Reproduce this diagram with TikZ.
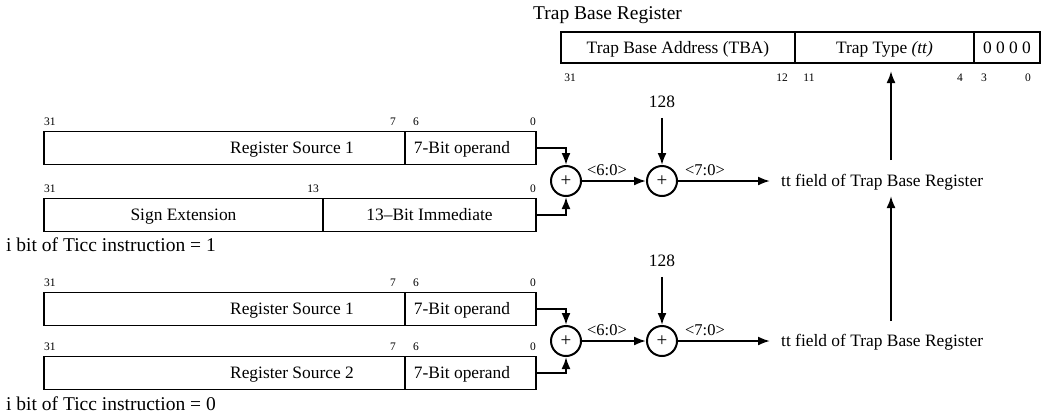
\documentclass[tikz,border=0pt]{standalone}
\usepackage{fontspec}
\setmainfont{Liberation Serif}
\usetikzlibrary{arrows.meta}
\begin{document}
\begin{tikzpicture}[x=1pt,y=-1pt,
  cell/.style={draw, line width=1.8pt, minimum height=33pt, inner sep=0pt,
    font=\fontsize{17.4}{20}\selectfont, text height=11.5pt, text depth=0pt},
  txt/.style={font=\fontsize{17.4}{20}\selectfont, inner sep=0pt, text height=11.5pt, text depth=0pt},
  small/.style={font=\fontsize{16.5}{19}\selectfont, inner sep=0pt, text height=11pt, text depth=0pt},
  big/.style={font=\fontsize{19.5}{22}\selectfont, inner sep=0pt, text height=13pt, text depth=0pt},
  bitno/.style={font=\fontsize{11.5}{13}\selectfont, inner sep=0pt, text height=7.5pt, text depth=0pt},
  adder/.style={draw, circle, line width=2pt, minimum size=30pt, inner sep=0pt,
    font=\fontsize{19}{21}\selectfont},
  arr/.style={line width=2pt, -{Latex[length=12pt,width=9pt]}}
]
\useasboundingbox (0,0) rectangle (1047,416);

% ---------- Trap Base Register ----------
\node[big, anchor=west] (tbrtitle) at (533,13) {Trap Base Register};
\node[cell, minimum height=31pt, minimum width=234pt] (tba) at (678,47.5) {Trap Base Address (TBA)};
\node[cell, minimum height=31pt, minimum width=179pt] (ttc) at (884.5,47.5) {Trap Type \textit{(tt)}};
\node[cell, minimum height=31pt, minimum width=66pt] (zc) at (1007,47.5) {0 0 0 0};
\node[bitno] (t31) at (570,78) {31};
\node[bitno] (t12) at (782,78) {12};
\node[bitno] (t11) at (809,78) {11};
\node[bitno] (t4) at (960,78) {4};
\node[bitno] (t3) at (984,78) {3};
\node[bitno] (t0) at (1028,78) {0};

% ---------- i = 1 : rs1 + simm13 ----------
\node[cell, minimum width=361pt] (aL) at (224.5,148) {};
\node[cell, minimum width=131pt] (aR) at (470.5,148) {};
\node[txt] (aLt) at (292,148) {Register Source 1};
\node[txt] (aRt) at (462,148) {7-Bit operand};
\node[bitno, anchor=west] (a31) at (44,122) {31};
\node[bitno] (a7) at (393,122) {7};
\node[bitno] (a6) at (416,122) {6};
\node[bitno] (a0) at (533,122) {0};

\node[cell, minimum width=279pt] (bL) at (183.5,215) {Sign Extension};
\node[cell, minimum width=213pt] (bR) at (429.5,215) {13–Bit Immediate};
\node[bitno, anchor=west] (b31) at (44,189) {31};
\node[bitno] (b13) at (313,189) {13};
\node[bitno] (b0) at (533,189) {0};

\node[big, anchor=west] (ibit1) at (6,245) {i bit of Ticc instruction = 1};

\node[adder] (add1) at (566,181) {+};
\node[adder] (add2) at (662,181) {+};
\node[txt] (c128a) at (662,102) {128};
\node[txt, anchor=west] (tt1) at (781,181) {tt field of Trap Base Register};

\draw[arr] (aR.east) -| (add1.north);
\draw[arr] (bR.east) -| (add1.south);
\draw[arr] (add1.east) -- (add2.west);
\node[small] (l60a) at (607,170) {<6:0>};
\draw[arr] ([yshift=-10pt]c128a.south) -- (add2.north);
\draw[arr] (add2.east) -- ([xshift=-11pt]tt1.west);
\node[small] (l70a) at (705,170) {<7:0>};

% ---------- i = 0 : rs1 + rs2 ----------
\node[cell, minimum width=361pt] (cL) at (224.5,309) {};
\node[cell, minimum width=131pt] (cR) at (470.5,309) {};
\node[txt] (cLt) at (292,309) {Register Source 1};
\node[txt] (cRt) at (462,309) {7-Bit operand};
\node[bitno, anchor=west] (c31) at (44,283) {31};
\node[bitno] (c7) at (393,283) {7};
\node[bitno] (c6) at (416,283) {6};
\node[bitno] (c0) at (533,283) {0};

\node[cell, minimum width=361pt] (dL) at (224.5,373) {};
\node[cell, minimum width=131pt] (dR) at (470.5,373) {};
\node[txt] (dLt) at (292,373) {Register Source 2};
\node[txt] (dRt) at (462,373) {7-Bit operand};
\node[bitno, anchor=west] (d31) at (44,347) {31};
\node[bitno] (d7) at (393,347) {7};
\node[bitno] (d6) at (416,347) {6};
\node[bitno] (d0) at (533,347) {0};

\node[big, anchor=west] (ibit0) at (6,404) {i bit of Ticc instruction = 0};

\node[adder] (add3) at (566,341) {+};
\node[adder] (add4) at (662,341) {+};
\node[txt] (c128b) at (662,261) {128};
\node[txt, anchor=west] (tt2) at (781,341) {tt field of Trap Base Register};

\draw[arr] (cR.east) -| (add3.north);
\draw[arr] (dR.east) -| (add3.south);
\draw[arr] (add3.east) -- (add4.west);
\node[small] (l60b) at (607,330) {<6:0>};
\draw[arr] ([yshift=-10pt]c128b.south) -- (add4.north);
\draw[arr] (add4.east) -- ([xshift=-11pt]tt2.west);
\node[small] (l70b) at (705,330) {<7:0>};

% ---------- tt field feeding the register ----------
\coordinate (up1s) at (891,160);
\coordinate (up1e) at (891,71);
\coordinate (up2s) at (891,321);
\coordinate (up2e) at (891,196);
\draw[arr] (up1s) -- (up1e);
\draw[arr] (up2s) -- (up2e);
\end{tikzpicture}
\end{document}
